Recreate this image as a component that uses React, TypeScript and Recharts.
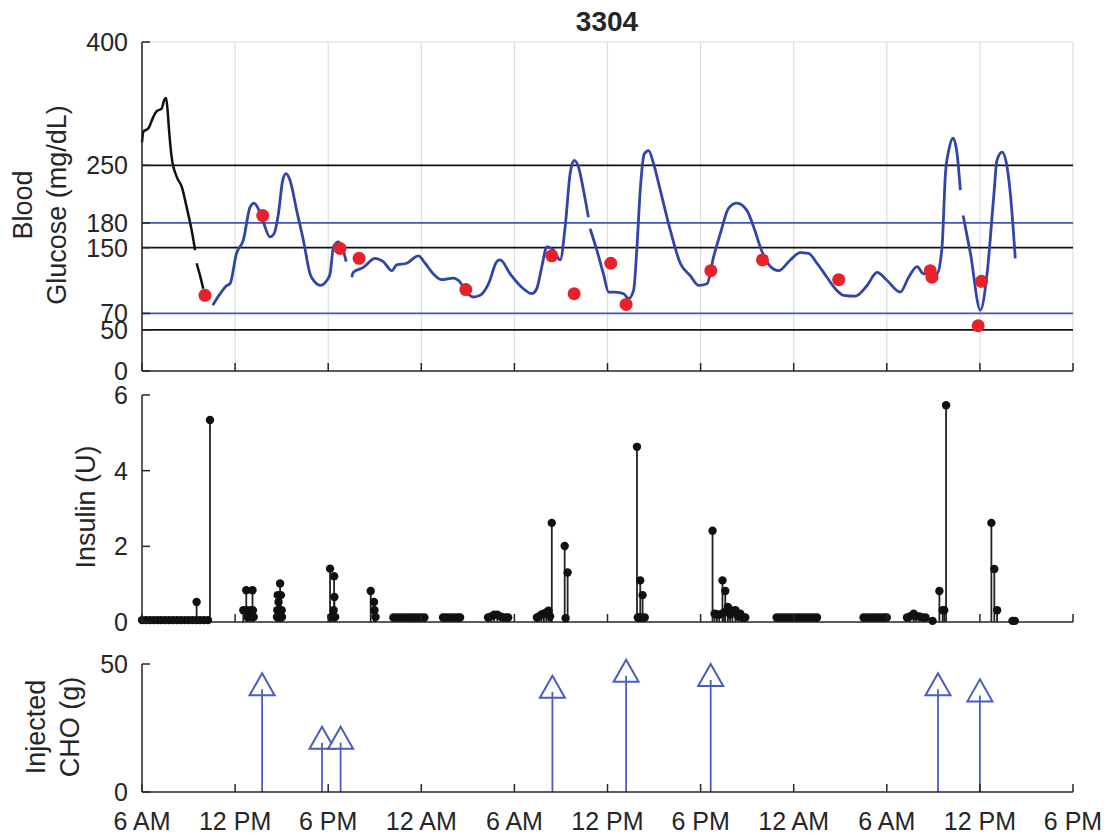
import React from 'react';
import { ComposedChart, Line, Scatter, XAxis, YAxis, ReferenceLine, CartesianGrid, ErrorBar } from 'recharts';

// ---------- axes ----------
const TICK_HOURS = [0, 6, 12, 18, 24, 30, 36, 42, 48, 54, 60];
const TICK_LABELS = ['6 AM', '12 PM', '6 PM', '12 AM', '6 AM', '12 PM', '6 PM', '12 AM', '6 AM', '12 PM', '6 PM'];
const BG_TICKS = [0, 50, 70, 150, 180, 250, 400];
const INS_TICKS = [0, 2, 4, 6];
const CHO_TICKS = [0, 50];
const BLACK_LIMITS = [250, 150, 50];
const BLUE_LIMITS = [180, 70];

// ---------- blood glucose (hours after 6 AM, mg/dL) ----------
const BLACK_A_T = [0, 0.09, 0.41, 0.73, 0.95, 1.27, 1.42, 1.55, 1.63, 1.76, 1.91, 2.24, 2.56, 2.88, 3.2, 3.42];
const BLACK_A_V = [278, 291, 295, 309, 316, 319, 329, 332, 321, 289, 260, 236, 224, 199, 171, 147];
const BLACK_B_T = [3.52, 3.74, 3.95];
const BLACK_B_V = [131, 116, 100];
const BLUE_1_T = [4.56, 5.04, 5.47, 5.67, 6.09, 6.53, 6.96, 7.22, 7.5, 7.82, 8.25, 8.51, 8.79, 9.07, 9.28, 9.54, 9.97, 10.4, 10.83, 11.15, 11.48, 11.91, 12.12, 12.34, 12.66, 12.99, 13.16];
const BLUE_1_V = [80, 94, 104, 106, 143, 159, 199, 204, 197, 181, 163, 167, 191, 232, 240, 232, 195, 159, 118, 108, 104, 110, 118, 151, 157, 145, 133];
const BLUE_2_T = [13.52, 13.62, 14.27, 15.02, 15.55, 16.1, 16.42, 17.06, 17.81, 18.25, 18.78, 19.32, 20.07, 20.5, 20.83, 21.36, 21.79, 22.33, 22.87, 23.08, 23.73, 24.58, 25.12, 25.44, 25.77, 26.09, 26.52, 26.95, 27.27, 27.59, 27.85, 28.13, 28.45, 28.77];
const BLUE_2_V = [114, 120, 126, 137, 133, 122, 129, 131, 140, 131, 118, 111, 113, 108, 98, 90, 92, 106, 133, 135, 118, 100, 94, 100, 127, 151, 147, 135, 175, 240, 256, 248, 220, 187];
const BLUE_3_T = [28.88, 29.31, 29.74, 30.07, 30.5, 31.04, 31.36, 31.68, 31.9, 32.11, 32.37, 32.65, 32.97, 33.4, 34.05, 34.69, 35.33, 35.88, 36.41, 36.84, 37.27, 37.81, 38.34, 38.99, 39.42, 39.96, 40.5, 41.03, 41.78, 42.42, 42.96, 43.5, 44.14, 44.68, 45.22, 45.97, 46.73, 47.37, 48.02, 48.87, 49.41, 49.95, 50.38, 51.24, 51.56, 51.78, 51.99, 52.27, 52.53, 52.74];
const BLUE_3_V = [173, 147, 118, 96, 96, 94, 88, 98, 151, 220, 264, 268, 252, 220, 171, 131, 116, 104, 106, 139, 167, 198, 204, 195, 175, 145, 127, 122, 135, 144, 143, 131, 114, 100, 92, 91, 104, 120, 110, 96, 114, 127, 118, 118, 151, 240, 268, 283, 264, 220];
const BLUE_4_T = [52.92, 53.39, 54.03, 54.46, 54.89, 55.1, 55.43, 55.75, 55.96, 56.28];
const BLUE_4_V = [189, 143, 74, 118, 212, 256, 266, 248, 216, 137];
const SMBG_T = [4.06, 7.78, 12.76, 13.99, 20.87, 26.41, 27.85, 30.21, 31.2, 36.66, 39.99, 44.9, 50.8, 50.91, 54.1, 53.89];
const SMBG_V = [92, 189, 149, 137, 99, 140, 94, 131, 81, 122, 135, 111, 122, 114, 109, 55];

// ---------- insulin (hours, U) ----------
const BASAL_A_T = [0, 0.25, 0.5, 0.75, 1, 1.25, 1.5, 1.75, 2, 2.25, 2.5, 2.75, 3, 3.25, 3.5, 3.75, 4, 4.25];
const BASAL_A_V = [0.05, 0.05, 0.05, 0.05, 0.05, 0.05, 0.05, 0.05, 0.05, 0.05, 0.05, 0.05, 0.05, 0.05, 0.05, 0.05, 0.05, 0.05];
const BASAL_F_T = [16.2, 16.4, 16.6, 16.8, 17.0, 17.2, 17.4, 17.6, 17.8, 18.0, 18.2, 19.4, 19.6, 19.8, 20.0, 20.2, 20.4, 20.5];
const BASAL_F_V = [0.12, 0.12, 0.12, 0.12, 0.12, 0.12, 0.12, 0.12, 0.12, 0.12, 0.12, 0.12, 0.12, 0.12, 0.12, 0.12, 0.12, 0.12];
const BASAL_M_T = [40.9, 41.1, 41.3, 41.5, 41.7, 41.9, 42.1, 42.3, 42.5, 42.7, 42.9, 43.1, 43.3, 43.5, 46.5, 46.7, 46.9, 47.1, 47.3, 47.5, 47.7, 47.9, 48.0];
const BASAL_M_V = [0.12, 0.12, 0.12, 0.12, 0.12, 0.12, 0.12, 0.12, 0.12, 0.12, 0.12, 0.12, 0.12, 0.12, 0.12, 0.12, 0.12, 0.12, 0.12, 0.12, 0.12, 0.12, 0.12];
const BOLUS_T = [
  3.52, 4.38,
  6.53, 6.72, 6.75, 6.8, 6.95, 7.0, 7.12, 7.15, 7.2,
  8.7, 8.72, 8.75, 8.8, 8.85, 8.9, 8.95, 9.0, 9.02,
  12.12, 12.2, 12.35, 12.38, 12.4, 12.45,
  14.74, 14.95, 14.98, 15.05,
  22.3, 22.5, 22.7, 22.9, 23.1, 23.3, 23.5, 23.6,
  25.45, 25.6, 25.75, 25.9, 26.05, 26.2, 26.3, 26.41,
  27.24, 27.3, 27.43,
  31.9, 31.95, 32.05, 32.11, 32.2, 32.26, 32.4,
  36.77, 36.9, 37.05, 37.2, 37.41, 37.5, 37.59, 37.76, 37.9, 38.05, 38.25, 38.4, 38.56, 38.7, 38.88,
  49.3, 49.5, 49.73, 49.9, 50.1, 50.3, 50.5, 50.95,
  51.39, 51.6, 51.7, 51.82,
  54.74, 54.93, 55.11,
  56.1, 56.25,
];
const BOLUS_V = [
  0.53, 5.34,
  0.31, 0.84, 0.31, 0.13, 0.13, 0.31, 0.84, 0.31, 0.13,
  0.13, 0.31, 0.71, 0.53, 0.13, 1.02, 0.71, 0.31, 0.13,
  1.41, 0.13, 0.31, 1.21, 0.66, 0.13,
  0.82, 0.53, 0.31, 0.13,
  0.12, 0.15, 0.19, 0.19, 0.15, 0.12, 0.12, 0.12,
  0.12, 0.15, 0.2, 0.22, 0.25, 0.3, 0.15, 2.62,
  2.01, 0.1, 1.31,
  4.63, 0.12, 0.12, 1.1, 0.12, 0.71, 0.12,
  2.41, 0.22, 0.2, 0.2, 1.1, 0.25, 0.82, 0.4, 0.2, 0.3, 0.31, 0.15, 0.22, 0.12, 0.12,
  0.12, 0.15, 0.22, 0.15, 0.15, 0.12, 0.12, 0.03,
  0.82, 0.31, 0.31, 5.73,
  2.62, 1.4, 0.31,
  0.03, 0.03,
];

// ---------- carbohydrates (hours, g) ----------
const CHO_T = [7.74, 11.6, 12.8, 26.45, 31.2, 36.65, 51.3, 54.0];
const CHO_V = [37.8, 16.9, 16.9, 36.8, 43.1, 41.4, 37.8, 35.4];

// ---------- styles ----------
const FONT = '"Liberation Sans", Arial, Helvetica, sans-serif';
const INK = '#262626';
const CGM_BLUE = '#3045a8';
const LIM_BLUE = '#4355b5';
const ARROW_BLUE = '#4a5cc2';
const RED = '#e8212a';
const GRID = '#dedede';

const zip = (t: number[], v: number[]) => t.map((x, i) => ({ t: x, v: v[i] }));

const blackA = zip(BLACK_A_T, BLACK_A_V);
const blackB = zip(BLACK_B_T, BLACK_B_V);
const blue1 = zip(BLUE_1_T, BLUE_1_V);
const blue2 = zip(BLUE_2_T, BLUE_2_V);
const blue3 = zip(BLUE_3_T, BLUE_3_V);
const blue4 = zip(BLUE_4_T, BLUE_4_V);
const smbg = zip(SMBG_T, SMBG_V);
const insulin = [
  ...zip(BASAL_A_T, BASAL_A_V),
  ...zip(BASAL_F_T, BASAL_F_V),
  ...zip(BASAL_M_T, BASAL_M_V),
  ...zip(BOLUS_T, BOLUS_V),
];
const cho = zip(CHO_T, CHO_V);

const stemRange = (d: any) => [d.v, 0];

const makeXTick = (showLabel: boolean) => (p: any) => {
  const i = TICK_HOURS.indexOf(p.payload.value);
  return (
    <g>
      <line x1={p.x} x2={p.x} y1={p.y} y2={p.y - 8} stroke={INK} strokeWidth={1.5} />
      {showLabel && (
        <text x={p.x} y={p.y + 38} textAnchor="middle" fontSize={25} fontFamily={FONT} fill={INK}>
          {TICK_LABELS[i]}
        </text>
      )}
    </g>
  );
};

const YTick = (p: any) => (
  <g>
    <line x1={p.x} x2={p.x + 8} y1={p.y} y2={p.y} stroke={INK} strokeWidth={1.5} />
    <text x={p.x - 14} y={p.y} dy="0.36em" textAnchor="end" fontSize={25} fontFamily={FONT} fill={INK}>
      {p.payload.value}
    </text>
  </g>
);

const RedDot = (p: any) => <circle cx={p.cx} cy={p.cy} r={6.5} fill={RED} />;
const InsDot = (p: any) => <circle cx={p.cx} cy={p.cy} r={4.2} fill="#111" />;
const Arrow = (p: any) => (
  <g>
    <polygon
      points={`${p.cx},${p.cy - 22} ${p.cx - 12.5},${p.cy} ${p.cx + 12.5},${p.cy}`}
      fill="#fff"
      stroke={ARROW_BLUE}
      strokeWidth={2}
    />
    <line x1={p.cx} x2={p.cx} y1={p.cy} y2={p.cy - 6} stroke={ARROW_BLUE} strokeWidth={1.8} />
  </g>
);

const xAxisCommon = {
  dataKey: 't',
  type: 'number' as const,
  domain: [0, 60],
  ticks: TICK_HOURS,
  interval: 0 as const,
  tickSize: 0,
  tickMargin: 0,
  tickLine: false,
  stroke: INK,
  strokeWidth: 1.5,
  allowDecimals: true,
};

const yAxisCommon = {
  type: 'number' as const,
  width: 142,
  interval: 0 as const,
  tickSize: 0,
  tickMargin: 0,
  tickLine: false,
  stroke: INK,
  strokeWidth: 1.5,
  tick: YTick,
};

export default function App() {
  return (
    <div style={{ position: 'absolute', left: 0, top: 0, width: 1108, height: 837, background: '#fff', fontFamily: FONT }}>
      {/* Blood glucose */}
      <div style={{ position: 'absolute', left: 0, top: 0 }}>
        <ComposedChart width={1108} height={392} margin={{ top: 42, right: 35, bottom: 0, left: 0 }}>
          <CartesianGrid horizontal={false} stroke={GRID} strokeWidth={1.2} />
          <XAxis {...xAxisCommon} height={21} tick={makeXTick(false)} />
          <YAxis {...yAxisCommon} domain={[0, 400]} ticks={BG_TICKS} />
          <ReferenceLine y={400} stroke={GRID} strokeWidth={1.2} />
          {BLACK_LIMITS.map((y) => (
            <ReferenceLine key={'k' + y} y={y} stroke="#111" strokeWidth={1.6} />
          ))}
          {BLUE_LIMITS.map((y) => (
            <ReferenceLine key={'b' + y} y={y} stroke={LIM_BLUE} strokeWidth={1.8} />
          ))}
          <Line data={blackA} dataKey="v" type="monotone" stroke="#111" strokeWidth={2.5} dot={false} isAnimationActive={false} />
          <Line data={blackB} dataKey="v" type="monotone" stroke="#111" strokeWidth={2.5} dot={false} isAnimationActive={false} />
          <Line data={blue1} dataKey="v" type="monotone" stroke={CGM_BLUE} strokeWidth={2.8} dot={false} isAnimationActive={false} />
          <Line data={blue2} dataKey="v" type="monotone" stroke={CGM_BLUE} strokeWidth={2.8} dot={false} isAnimationActive={false} />
          <Line data={blue3} dataKey="v" type="monotone" stroke={CGM_BLUE} strokeWidth={2.8} dot={false} isAnimationActive={false} />
          <Line data={blue4} dataKey="v" type="monotone" stroke={CGM_BLUE} strokeWidth={2.8} dot={false} isAnimationActive={false} />
          <Scatter data={smbg} dataKey="v" shape={RedDot} isAnimationActive={false} />
        </ComposedChart>
      </div>

      {/* Insulin */}
      <div style={{ position: 'absolute', left: 0, top: 380 }}>
        <ComposedChart width={1108} height={262} margin={{ top: 15, right: 35, bottom: 0, left: 0 }}>
          <XAxis {...xAxisCommon} height={20} tick={makeXTick(false)} />
          <YAxis {...yAxisCommon} domain={[0, 6]} ticks={INS_TICKS} />
          <Scatter data={insulin} dataKey="v" shape={InsDot} isAnimationActive={false}>
            <ErrorBar dataKey={stemRange} direction="y" width={0} stroke="#222" strokeWidth={1.8} />
          </Scatter>
        </ComposedChart>
      </div>

      {/* Carbohydrates */}
      <div style={{ position: 'absolute', left: 0, top: 640 }}>
        <ComposedChart width={1108} height={197} margin={{ top: 24, right: 35, bottom: 0, left: 0 }}>
          <XAxis {...xAxisCommon} height={45} tick={makeXTick(true)} />
          <YAxis {...yAxisCommon} domain={[0, 50]} ticks={CHO_TICKS} />
          <Scatter data={cho} dataKey="v" shape={Arrow} isAnimationActive={false}>
            <ErrorBar dataKey={stemRange} direction="y" width={0} stroke={ARROW_BLUE} strokeWidth={1.8} />
          </Scatter>
        </ComposedChart>
      </div>

      {/* Title and axis titles */}
      <svg width={1108} height={837} style={{ position: 'absolute', left: 0, top: 0, pointerEvents: 'none' }}>
        <text x={607} y={31} textAnchor="middle" fontSize={28} fontWeight="bold" fontFamily={FONT} fill={INK}>3304</text>
        <text transform="translate(32,205) rotate(-90)" textAnchor="middle" fontSize={27} fontFamily={FONT} fill={INK}>Blood</text>
        <text transform="translate(66,205) rotate(-90)" textAnchor="middle" fontSize={27} fontFamily={FONT} fill={INK}>Glucose (mg/dL)</text>
        <text transform="translate(95,507) rotate(-90)" textAnchor="middle" fontSize={27} fontFamily={FONT} fill={INK}>Insulin (U)</text>
        <text transform="translate(45,727) rotate(-90)" textAnchor="middle" fontSize={27} fontFamily={FONT} fill={INK}>Injected</text>
        <text transform="translate(79,727) rotate(-90)" textAnchor="middle" fontSize={27} fontFamily={FONT} fill={INK}>CHO (g)</text>
      </svg>
    </div>
  );
}
